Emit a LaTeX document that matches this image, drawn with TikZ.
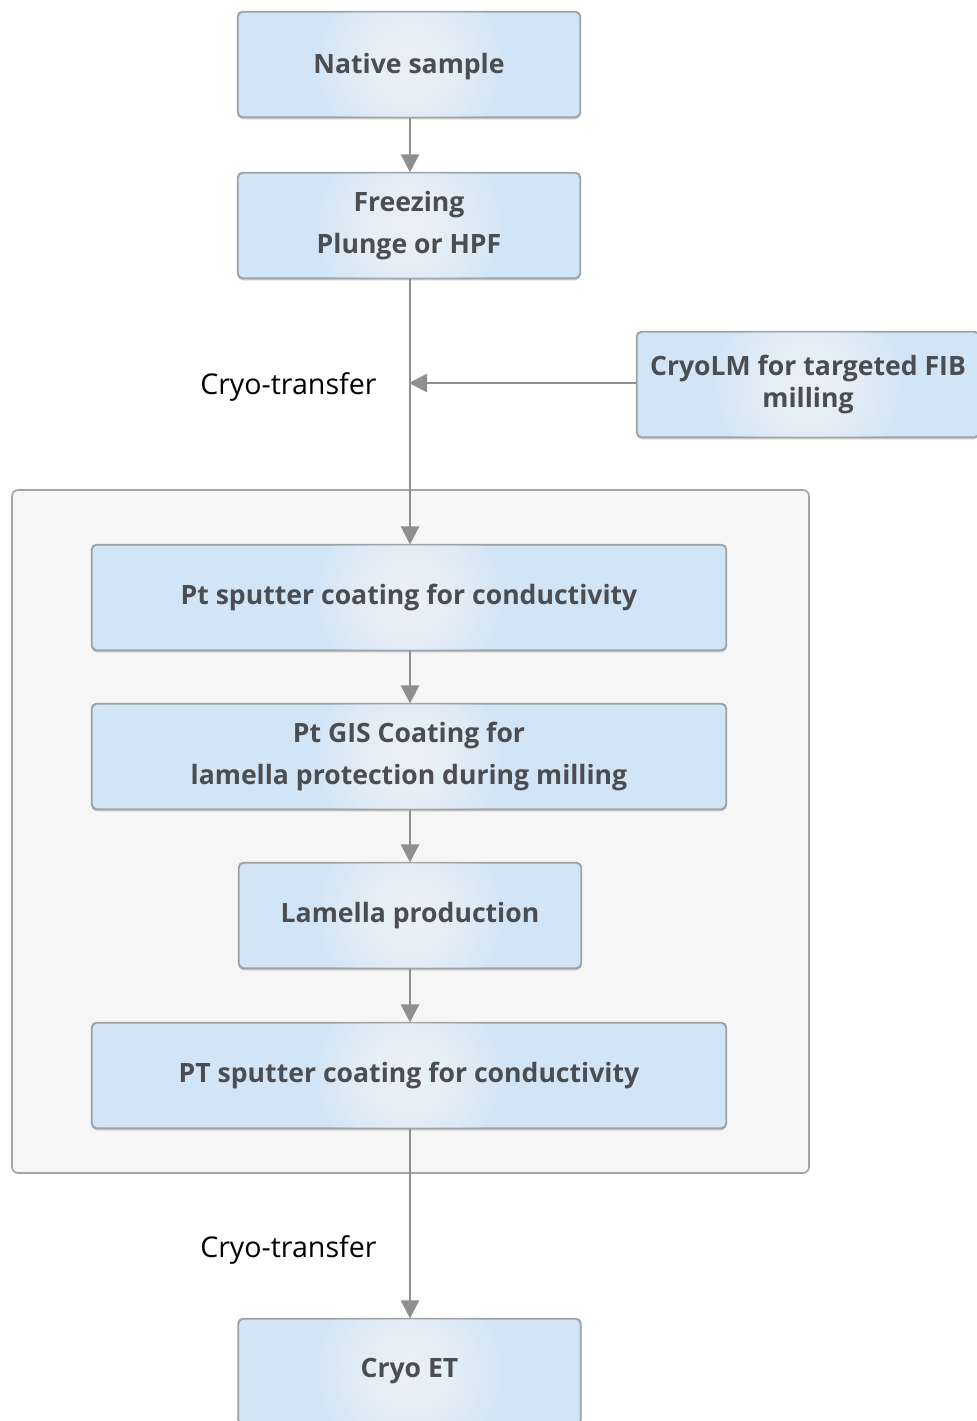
\documentclass[tikz,border=0pt]{standalone}
\usepackage{fontspec}
\setmainfont{Open Sans}
\usetikzlibrary{shadows,arrows.meta}
\definecolor{boxout}{HTML}{D2E5F6}
\definecolor{boxin}{HTML}{F4F8FD}
\definecolor{boxline}{HTML}{9EA3A8}
\definecolor{txt}{HTML}{4A4D52}
\definecolor{arr}{HTML}{8F8F8F}
\definecolor{contfill}{HTML}{F6F6F6}
\definecolor{contline}{HTML}{A5A5A5}
\begin{document}
\begin{tikzpicture}[x=0.5pt,y=-0.5pt,
  stepbox/.style={draw=boxline, line width=0.6pt, rounded corners=2.5pt, fill=boxout,
    minimum width=171pt, minimum height=52.5pt, inner sep=0pt,
    drop shadow={shadow xshift=0pt, shadow yshift=-1.2pt, opacity=0.35, fill=black!60}},
  widebox/.style={stepbox, minimum width=317pt},
  boxtext/.style={font=\fontsize{13.3}{21}\selectfont\bfseries, text=txt, align=center, inner sep=0pt},
  flow/.style={draw=arr, line width=1.3pt, -{Triangle[length=9pt,width=9pt]}},
  lbl/.style={font=\fontsize{14.3}{17}\selectfont, text=black, inner sep=0pt}]
\useasboundingbox (0,0) rectangle (976,1421);
% container
\node[draw=contline, line width=0.8pt, fill=contfill, rounded corners=3pt,
  minimum width=398.5pt, minimum height=341.5pt, inner sep=0pt] (cont) at (410.5,831.5) {};
% boxes
\node[stepbox] (native) at (409,64.5) {};
\node[stepbox] (freeze) at (409,225.5) {};
\node[stepbox] (cryolm) at (808,384.5) {};
\node[widebox] (pt1) at (409,597.5) {};
\node[widebox] (gis) at (409,756.5) {};
\node[stepbox] (lam) at (410,915.5) {};
\node[widebox] (pt2) at (409,1075.5) {};
\node[stepbox] (et) at (409.5,1371.5) {};
% central glow
\foreach \b in {native,freeze,cryolm,pt1,gis,lam,pt2,et}{
  \begin{scope}
    \clip[rounded corners=2.5pt] (\b.south west) rectangle (\b.north east);
    \foreach \r in {3,6,...,45}
      \fill[boxin, opacity=0.1] (\b.center) circle[radius=\r pt];
  \end{scope}
  \draw[draw=boxline, line width=0.6pt, rounded corners=2.5pt] (\b.south west) rectangle (\b.north east);
}
% texts
\node[boxtext] (tnative) at ([yshift=-1pt]native.center) {Native sample};
\node[boxtext] (tfreeze) at (freeze.center) {Freezing\\Plunge or HPF};
\node[boxtext, font=\fontsize{13.3}{16}\selectfont\bfseries] (tcryolm) at (cryolm.center) {CryoLM for targeted FIB\\milling};
\node[boxtext] (tpt1) at (pt1.center) {Pt sputter coating for conductivity};
\node[boxtext] (tgis) at (gis.center) {Pt GIS Coating for\\lamella protection during milling};
\node[boxtext] (tlam) at (lam.center) {Lamella production};
\node[boxtext] (tpt2) at (pt2.center) {PT sputter coating for conductivity};
\node[boxtext] (tet) at (et.center) {Cryo ET};
% connectors
\coordinate (j) at (410,383);
\draw[flow] (native.south -| 410,0) -- (freeze.north -| 410,0);
\draw[flow] (freeze.south -| 410,0) -- (pt1.north -| 410,0);
\draw[flow, shorten >=-0.5pt] (cryolm.west |- j) -- (j);
\draw[flow] (pt1.south -| 410,0) -- (gis.north -| 410,0);
\draw[flow] (gis.south -| 410,0) -- (lam.north -| 410,0);
\draw[flow] (lam.south -| 410,0) -- (pt2.north -| 410,0);
\draw[flow] (pt2.south -| 410,0) -- (et.north -| 410,0);
\node[lbl, anchor=east] (ct1) at (377,387) {Cryo-transfer};
\node[lbl, anchor=east] (ct2) at (377,1250) {Cryo-transfer};
\end{tikzpicture}
\end{document}
